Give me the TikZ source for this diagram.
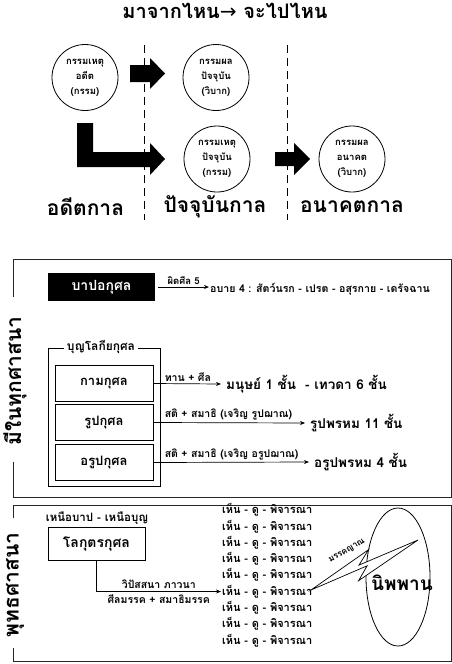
\documentclass[tikz,border=0pt]{standalone}
\usepackage{fontspec}
\newfontfamily\thai[Script=Thai]{Loma}
\newfontfamily\dejavu{DejaVu Sans}
\usetikzlibrary{arrows.meta,shapes.geometric,calc}
\begin{document}
\begin{tikzpicture}[x=1pt,y=-1pt,
  every node/.style={font=\thai\bfseries, inner sep=1pt},
  circ/.style={circle, draw, line width=0.8pt, minimum size=66pt, inner sep=0pt, align=center, font=\thai\bfseries\fontsize{9.5}{15}\selectfont},
  divline/.style={line width=0.8pt, dash pattern=on 8pt off 5pt},
  era/.style={font=\thai\bfseries\fontsize{21}{25}\selectfont},
  framebox/.style={line width=1pt, draw=black!85},
  kbox/.style={draw, line width=0.8pt, minimum width=98pt, minimum height=36pt, font=\thai\bfseries\fontsize{13}{15}\selectfont},
  lab/.style={font=\thai\bfseries\fontsize{10.5}{12}\selectfont},
  res/.style={font=\thai\bfseries\fontsize{13.5}{16}\selectfont, anchor=west, inner xsep=5pt},
  arr/.style={-{Stealth[length=5pt,width=4pt]}, line width=0.7pt},
  sidelabel/.style={rotate=90, fill=white, font=\thai\bfseries\fontsize{21}{24}\selectfont},
  listitem/.style={anchor=west, font=\thai\bfseries\fontsize{11}{12}\selectfont}
]
\useasboundingbox (0,0) rectangle (452,664);
\fill[white] (0,0) rectangle (452,664);

% title
\node (title) at (225,11) {\fontsize{20}{24}\selectfont มาจากไหน{\dejavu\mdseries →} จะไปไหน};

% dashed dividers
\draw[divline] (144,45) -- (144,220);
\draw[divline] (287,45) -- (287,220);

% circles
\node[circ] (c1) at (85,77.5) {กรรมเหตุ\\อดีต\\(กรรม)};
\node[circ] (c2) at (216,77.5) {กรรมผล\\ปัจจุบัน\\(วิบาก)};
\node[circ] (c3) at (217,159) {กรรมเหตุ\\ปัจจุบัน\\(กรรม)};
\node[circ] (c4) at (352,159) {กรรมผล\\อนาคต\\(วิบาก)};

% block arrows
\fill (130,65) -- (150,65) -- (150,58) -- (165,73.5) -- (150,89) -- (150,82) -- (130,82) -- cycle;
\fill (77,123) -- (93,123) -- (93,152) -- (150,152) -- (150,143) -- (165,159) -- (150,175) -- (150,167) -- (77,167) -- cycle;
\fill (275,152) -- (294,152) -- (294,143) -- (310,159) -- (294,175) -- (294,166) -- (275,166) -- cycle;

% eras
\node[era] (past) at (85.5,207) {อดีตกาล};
\node[era] (present) at (215,207) {ปัจจุบันกาล};
\node[era] (future) at (352,207) {อนาคตกาล};

% frame 1
\draw[framebox] (13,297) -- (13,259) -- (451,259) -- (451,497) -- (13,497) -- (13,462);
\node[sidelabel] (allrel) at (15,381) {มีในทุกศาสนา};

\node[fill=black, text=white, minimum width=107pt, minimum height=28pt, font=\thai\bfseries\fontsize{14}{16}\selectfont] (bap) at (101.5,287) {บาปอกุศล};
\node[anchor=west, font=\thai\bfseries\fontsize{10.6}{13}\selectfont] (apaya) at (209,289) {อบาย 4 : สัตว์นรก - เปรต - อสุรกาย - เดรัจฉาน};
\draw[arr] ($(bap.east)+(3,0)$) -- (apaya.west |- bap.east) node[midway, above=1pt, lab, font=\thai\bfseries\fontsize{9.5}{11}\selectfont] (sin5) {ผิดศีล 5};

% group box
\draw[line width=0.8pt] (48,348) rectangle (160,486);
\node[fill=white, inner xsep=3pt, font=\thai\bfseries\fontsize{12}{14}\selectfont] (bunlok) at (101,347) {บุญโลกียกุศล};

\node[kbox] (k1) at (104,383.5) {กามกุศล};
\node[kbox] (k2) at (104,422.5) {รูปกุศล};
\node[kbox] (k3) at (104,462.5) {อรูปกุศล};

\node[res] (t1) at (221,384) {มนุษย์ 1 ชั้น\ \ - เทวดา 6 ชั้น};
\node[res] (t2) at (305,423) {รูปพรหม 11 ชั้น};
\node[res] (t3) at (309,462) {อรูปพรหม 4 ชั้น};

\draw[arr] (k1.east) -- (t1.west) node[pos=0, anchor=south west, xshift=10pt, yshift=1pt, lab] (l1) {ทาน + ศีล};
\draw[arr] (k2.east) -- (t2.west) node[pos=0, anchor=south west, xshift=10pt, yshift=1pt, lab] (l2) {สติ + สมาธิ (เจริญ รูปฌาณ)};
\draw[arr] (k3.east) -- (t3.west) node[pos=0, anchor=south west, xshift=10pt, yshift=1pt, lab] (l3) {สติ + สมาธิ (เจริญ อรูปฌาณ)};

% frame 2
\draw[framebox] (13,518) -- (13,505) -- (451,505) -- (451,661) -- (13,661) -- (13,648);
\node[sidelabel] (buddh) at (15,585) {พุทธศาสนา};

\node[font=\thai\bfseries\fontsize{11.5}{13}\selectfont] (beyond) at (97,518) {เหนือบาป - เหนือบุญ};
\node[draw, line width=0.8pt, minimum width=97pt, minimum height=33pt, font=\thai\bfseries\fontsize{14}{16}\selectfont] (lok) at (96.5,543.5) {โลกุตรกุศล};

\foreach \i in {1,...,9}{
  \node[listitem] (s\i) at (221,{510+16.3*(\i-1)}) {เห็น - ดู - พิจารณา};
}
\draw[arr] (lok.south) |- (s6.west) node[pos=0.75, above=2pt, lab] (vip) {วิปัสสนา ภาวนา}
  node[pos=0.75, below=2pt, lab] (silmag) {ศีลมรรค + สมาธิมรรค};

% nibbana
\node[ellipse, draw, line width=0.8pt, minimum width=64pt, minimum height=138pt] (nib) at (398,577) {};
\node[font=\thai\bfseries\fontsize{19}{22}\selectfont] (nibtext) at (402,583) {นิพพาน};

% lightning bolt
\draw[line width=0.7pt, fill=white, line join=miter] (311,590) -- (368.5,549.7) -- (359,565.1) -- (418,540) -- (358.6,580.7) -- (367.1,565.8) -- cycle;
\node[rotate=30, font=\thai\bfseries\fontsize{8.5}{10}\selectfont] (magyan) at (347,551) {มรรคญาณ};
\end{tikzpicture}
\end{document}
